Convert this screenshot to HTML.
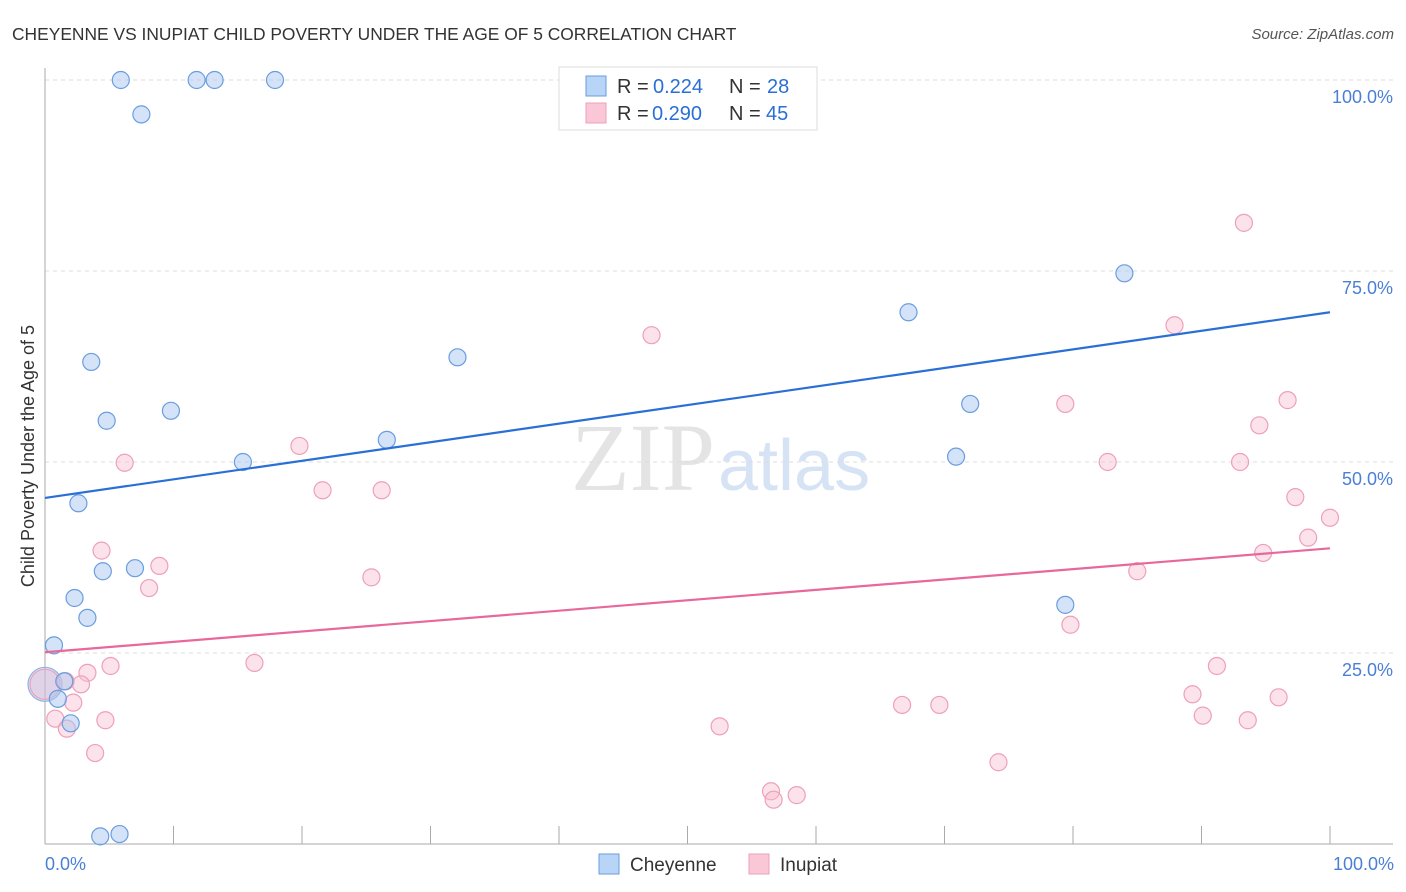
<!DOCTYPE html>
<html><head><meta charset="utf-8"><style>
body{margin:0;background:#fff;font-family:"Liberation Sans",sans-serif;}
svg{display:block}
</style></head><body>
<svg width="1406" height="892" id="svg">
<text x="12" y="40" font-size="17.4" fill="#333">CHEYENNE VS INUPIAT CHILD POVERTY UNDER THE AGE OF 5 CORRELATION CHART</text>
<text x="1394" y="39" font-size="15" fill="#555" text-anchor="end" font-style="italic">Source: ZipAtlas.com</text>
<text x="715" y="490" font-size="96" fill="#e4e4e4" text-anchor="end" font-family="Liberation Serif">ZIP</text>
<text x="718" y="490" font-size="72" fill="#d6e3f5">atlas</text>
<g id="grid"></g>
<g id="axes"></g>
<g id="marks"></g>
<text transform="translate(34,456) rotate(-90)" font-size="18" fill="#333" text-anchor="middle">Child Poverty Under the Age of 5</text>
<text x="45" y="870" font-size="18" fill="#4a7fd6">0.0%</text>
<text x="1394" y="870" font-size="18" fill="#4a7fd6" text-anchor="end">100.0%</text>
<g>
<rect x="559" y="67" width="258" height="63" fill="#fff" stroke="#ddd"/>
<rect x="586" y="76" width="20" height="20" fill="#b8d4f6" stroke="#6a9de0"/>
<rect x="586" y="103" width="20" height="20" fill="#f9c7d6" stroke="#eea0b8"/>
<text x="617" y="93" font-size="20" fill="#333">R =</text>
<text x="653" y="93" font-size="20" fill="#2a6fd6">0.224</text>
<text x="729" y="93" font-size="20" fill="#333">N =</text>
<text x="767" y="93" font-size="20" fill="#2a6fd6">28</text>
<text x="617" y="120" font-size="20" fill="#333">R =</text>
<text x="652" y="120" font-size="20" fill="#2a6fd6">0.290</text>
<text x="729" y="120" font-size="20" fill="#333">N =</text>
<text x="766" y="120" font-size="20" fill="#2a6fd6">45</text>
</g>
<g>
<rect x="599" y="854" width="20" height="20" fill="#b8d4f6" stroke="#6a9de0"/>
<text x="630" y="871" font-size="19" fill="#333">Cheyenne</text>
<rect x="749" y="854" width="20" height="20" fill="#f9c7d6" stroke="#eea0b8"/>
<text x="780" y="871" font-size="19" fill="#333">Inupiat</text>
</g>
</svg>
<script>
const yTicks=[25,50,75,100];
const yTickLabels=["25.0%","50.0%","75.0%","100.0%"];
const blueX=[5.9,7.5,11.8,13.2,17.9,3.6,4.8,9.8,2.6,15.4,26.6,32.1,4.5,7.0,2.3,3.3,0.7,1.5,1.0,2.0,4.3,5.8,67.2,84.0,72.0,70.9,79.4];
const blueY=[100,95.5,100,100,100,63.1,55.4,56.7,44.6,50.0,52.9,63.7,35.7,36.1,32.2,29.6,26.0,21.3,19.0,15.8,1.0,1.3,69.6,74.7,57.6,50.7,31.3];
const pinkX=[6.2,4.4,8.9,8.1,3.3,5.1,2.8,2.2,1.6,0.8,1.7,4.7,3.9,16.3,19.8,21.6,26.2,25.4,47.2,52.5,56.5,56.7,58.5,66.7,69.6,74.2,79.4,79.8,82.7,85.0,87.9,89.3,90.1,91.2,93.3,94.5,96.7,93.0,94.8,97.3,98.3,100,93.6,96.0];
const pinkY=[49.9,38.4,36.4,33.5,22.4,23.3,20.9,18.5,21.3,16.4,15.1,16.2,11.9,23.7,52.1,46.3,46.3,34.9,66.6,15.4,6.9,5.8,6.4,18.2,18.2,10.7,57.6,28.7,50.0,35.7,67.9,19.6,16.8,23.3,81.3,54.8,58.1,50.0,38.1,45.4,40.1,42.7,16.2,19.2];
const bigPoint=[0,20.9];
const blueTrend=[45.3,69.6];
const pinkTrend=[25.1,38.7];
const NS="http://www.w3.org/2000/svg";
const X=v=>45+v*12.85, Y=v=>844-v*7.64;
function mk(t,a,p){const e=document.createElementNS(NS,t);for(const k in a)e.setAttribute(k,a[k]);p.appendChild(e);return e;}
const grid=document.getElementById('grid'),axes=document.getElementById('axes'),marks=document.getElementById('marks');
yTicks.forEach((t,i)=>{
 const l=mk('line',{x1:45,x2:1393,y1:Y(t),y2:Y(t),stroke:'#ddd','stroke-dasharray':'4,4'},grid);
 
 
 const tx=mk('text',{x:1393,y:Y(t)+23,'font-size':18,fill:'#4a7fd6','text-anchor':'end'},grid);
 tx.textContent=yTickLabels[i];
 
 
});
mk('line',{x1:45,x2:45,y1:68,y2:844,stroke:'#aaa'},axes);
mk('line',{x1:45,x2:1393,y1:844,y2:844,stroke:'#aaa'},axes);
for(let i=1;i<=10;i++){const t=mk('line',{x1:X(i*10),x2:X(i*10),y1:826,y2:844,stroke:'#aaa'},axes);
 
 }
function dot(x,y,r,f,s,n){const c=mk('circle',{cx:X(x),cy:Y(y),r:r,fill:f,stroke:s,'stroke-width':1.2},marks);
 
 }
dot(bigPoint[0],bigPoint[1],17,'rgba(160,196,240,0.45)','#8fb2e6','cheyenne-point-large');
dot(bigPoint[0],bigPoint[1],15,'rgba(248,180,200,0.35)','#eea0b8','inupiat-point-large');
pinkX.forEach((x,i)=>dot(x,pinkY[i],8.5,'rgba(248,190,208,0.45)','#eea0b8','inupiat-point'));
blueX.forEach((x,i)=>dot(x,blueY[i],8.5,'rgba(170,200,240,0.5)','#6a9de0','cheyenne-point'));
const bl=mk('line',{x1:X(0),y1:Y(blueTrend[0]),x2:X(100),y2:Y(blueTrend[1]),stroke:'#2a6fd6','stroke-width':2.2},marks);


const pl=mk('line',{x1:X(0),y1:Y(pinkTrend[0]),x2:X(100),y2:Y(pinkTrend[1]),stroke:'#e8689a','stroke-width':2.2},marks);


</script>
</body></html>
